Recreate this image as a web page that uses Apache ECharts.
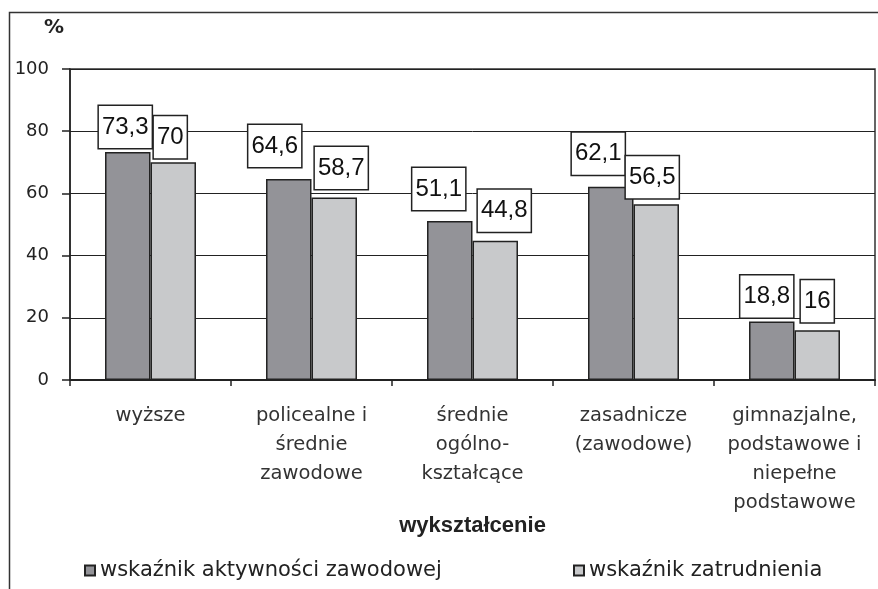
<!DOCTYPE html>
<html><head><meta charset="utf-8">
<script src="https://cdn.jsdelivr.net/npm/echarts@6/dist/echarts.min.js"></script>
<style>html,body{margin:0;padding:0;background:#fff}#c{width:878px;height:589px}</style>
</head><body><div id="c"></div>
<script>
const categories = ['wyższe', 'policealne i\nśrednie\nzawodowe', 'średnie\nogólno-\nkształcące', 'zasadnicze\n(zawodowe)', 'gimnazjalne,\npodstawowe i\nniepełne\npodstawowe'];
const seriesNames = ['wskaźnik aktywności zawodowej', 'wskaźnik zatrudnienia'];
const activity = [73.3, 64.6, 51.1, 62.1, 18.8];
const employment = [70, 58.7, 44.8, 56.5, 16];
const yTicks = [0, 20, 40, 60, 80, 100];
// label box nudges (style only)
const activityLabelOffsets = [[-2.5, 0], [-14, -8], [-11, -7], [-12.5, -8], [-5, 0]];
const employmentLabelOffsets = [[-3, 0], [7, -4.5], [9, -5], [-4, -2], [0, -4]];

const chart = echarts.init(document.getElementById('c'));
const labelStyle = {
  show: true, position: 'top', distance: 4,
  formatter: p => String(p.value).replace('.', ','),
  fontFamily: 'Liberation Sans', fontSize: 24, lineHeight: 26, color: '#111',
  backgroundColor: '#fff', borderColor: '#222', borderWidth: 1.5, padding: [8, 3, 8, 3]
};
const withOffsets = (vals, offs) => vals.map((v, i) => ({ value: v, label: { offset: offs[i] } }));
const legendText = { fontFamily: 'DejaVu Sans', fontSize: 21, color: '#222' };
chart.setOption({
  animation: false,
  graphic: [
    { type: 'rect', shape: { x: 9.5, y: 12.5, width: 900, height: 600 }, style: { fill: 'none', stroke: '#333', lineWidth: 1.5 }, silent: true, z: -1 },
    { type: 'text', left: 44, top: 18, style: { text: '%', font: 'bold 20px "DejaVu Sans"', fill: '#222' } }
  ],
  grid: { left: 70, right: 3, top: 69, bottom: 209, show: true, borderColor: '#333', borderWidth: 1.5, backgroundColor: 'transparent' },
  legend: [
    { data: [seriesNames[0]], left: 79, top: 555, icon: 'rect', itemWidth: 10, itemHeight: 10, itemGap: 0, textStyle: legendText },
    { data: [seriesNames[1]], left: 568, top: 555, icon: 'rect', itemWidth: 10, itemHeight: 10, itemGap: 0, textStyle: legendText }
  ],
  xAxis: {
    type: 'category', data: categories,
    name: 'wykształcenie', nameLocation: 'middle', nameGap: 135, nameMoveOverlap: false,
    nameTextStyle: { fontFamily: 'Liberation Sans', fontWeight: 'bold', fontSize: 22, color: '#222' },
    axisLine: { lineStyle: { color: '#222', width: 2 } },
    axisTick: { show: true, length: 6, lineStyle: { color: '#222', width: 1.5 } },
    axisLabel: { margin: 21, lineHeight: 29, fontFamily: 'DejaVu Sans', fontSize: 19.5, color: '#333', interval: 0 }
  },
  yAxis: {
    type: 'value', min: yTicks[0], max: yTicks[yTicks.length - 1], interval: 20,
    axisLine: { show: true, lineStyle: { color: '#222', width: 1.5 } },
    axisTick: { show: true, length: 8, lineStyle: { color: '#222', width: 1.5 } },
    axisLabel: { margin: 21, fontFamily: 'DejaVu Sans', fontSize: 18, color: '#222' },
    splitLine: { lineStyle: { color: '#222', width: 1 } }
  },
  series: [
    { name: seriesNames[0], type: 'bar', data: withOffsets(activity, activityLabelOffsets), barGap: '0%', barCategoryGap: '43.5%',
      itemStyle: { color: '#939398', borderColor: '#222', borderWidth: 1.5 }, label: labelStyle },
    { name: seriesNames[1], type: 'bar', data: withOffsets(employment, employmentLabelOffsets),
      itemStyle: { color: '#c8c9cb', borderColor: '#222', borderWidth: 1.5 }, label: labelStyle }
  ]
});
</script></body></html>
